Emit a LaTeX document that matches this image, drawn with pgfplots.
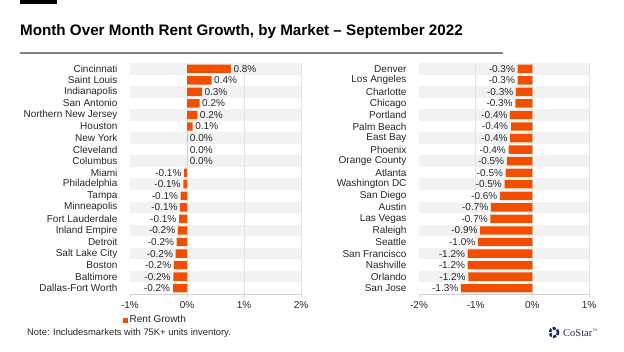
\documentclass[border=0pt]{standalone}
\usepackage{pgfplots}
\pgfplotsset{compat=1.18}
\usepackage{fontspec}
\setmainfont{Liberation Sans}
\newfontfamily\serif{Liberation Serif}
\definecolor{bar}{HTML}{F24E00}
\definecolor{band}{HTML}{F2F2F2}
\definecolor{gridc}{HTML}{E4E4E4}
\definecolor{txt}{HTML}{262626}
\definecolor{navy}{HTML}{1F2A5C}
\pgfplotsset{
  panel/.style={
    scale only axis, width=171pt, height=231pt,
    xbar, bar width=8.4pt, bar shift=0pt,
    ymin=0.5, ymax=20.5, ytick={1,...,20},
    axis x line*=bottom, axis y line*=left,
    y axis line style={draw=none}, ytick style={draw=none},
    x axis line style={gray!35}, xtick style={gray!35},
    tick align=outside, major tick length=3pt,
    tick label style={font=\fontsize{10}{12}\selectfont, text=txt},
    yticklabel style={xshift=-6pt},
    xticklabel style={yshift=-1pt},
    nodes near coords={\pgfplotspointmeta\%},
    point meta=explicit symbolic,
    clip=false,
  },
  pos/.style={fill=bar, draw=none, every node near coord/.style={anchor=west, font=\fontsize{10}{12}\selectfont, text=txt, inner sep=2.5pt}},
  neg/.style={fill=bar, draw=none, every node near coord/.style={anchor=east, font=\fontsize{10}{12}\selectfont, text=txt, inner sep=2.5pt}},
}
\begin{document}
\begin{tikzpicture}[x=1pt,y=1pt]
\useasboundingbox (0,0) rectangle (624,351);
% header
\fill[black] (20,347) rectangle (57,351);
\node[anchor=base west, inner sep=0, font=\bfseries\fontsize{15.2}{18}\selectfont] at (20,315) {Month Over Month Rent Growth, by Market \textendash\ September 2022};
\draw[gray!60!black!70, line width=1.5pt] (20,298) -- (503,298);
% left panel
\begin{axis}[panel, at={(130pt,57pt)}, anchor=south west,
  xmin=-1, xmax=2, xtick={-1,0,1,2}, xticklabels={-1\%,0\%,1\%,2\%},
  yticklabels={Dallas-Fort Worth,Baltimore,Boston,Salt Lake City,Detroit,Inland Empire,Fort Lauderdale,Minneapolis,Tampa,Philadelphia,Miami,Columbus,Cleveland,New York,Houston,Northern New Jersey,San Antonio,Indianapolis,Saint Louis,Cincinnati},
  legend style={at={(-0.045,-0.113)}, anchor=west, draw=none, fill=none, inner sep=0pt, font=\fontsize{10}{12}\selectfont, text=txt},
  legend image code/.code={\fill[bar] (0pt,-2.6pt) rectangle (5.2pt,2.6pt);},
  ]
\pgfplotsinvokeforeach{2,4,6,8,10,12,14,16,18,20}{
  \fill[band] (axis cs:-1,#1-0.5) rectangle (axis cs:2,#1+0.5);
}
\pgfplotsinvokeforeach{1,2}{
  \draw[gridc, line width=0.6pt] (axis cs:#1,0.5) -- (axis cs:#1,20.5);
}
\draw[gray!30, line width=0.6pt] (axis cs:0,0.5) -- (axis cs:0,20.5);
\addplot[pos] table[x=v, y=i, meta=l] {
i v l
20 0.77 0.8
19 0.43 0.4
18 0.26 0.3
17 0.22 0.2
16 0.18 0.2
15 0.10 0.1
14 0.005 0.0
13 0.004 0.0
12 0.003 0.0
};
\addlegendentry{Rent Growth}
\addplot[neg, forget plot] table[x=v, y=i, meta=l] {
i v l
11 -0.05 -0.1
10 -0.065 -0.1
9 -0.11 -0.1
8 -0.12 -0.1
7 -0.14 -0.1
6 -0.16 -0.2
5 -0.18 -0.2
4 -0.20 -0.2
3 -0.23 -0.2
2 -0.24 -0.2
1 -0.25 -0.2
};
\end{axis}
% right panel
\begin{axis}[panel, at={(419pt,57pt)}, anchor=south west, width=170pt,
  xmin=-2, xmax=1, xtick={-2,-1,0,1}, xticklabels={-2\%,-1\%,0\%,1\%},
  yticklabels={San Jose,Orlando,Nashville,San Francisco,Seattle,Raleigh,Las Vegas,Austin,San Diego,Washington DC,Atlanta,Orange County,Phoenix,East Bay,Palm Beach,Portland,Chicago,Charlotte,Los Angeles,Denver},
  ]
\pgfplotsinvokeforeach{2,4,6,8,10,12,14,16,18,20}{
  \fill[band] (axis cs:-2,#1-0.5) rectangle (axis cs:1,#1+0.5);
}
\pgfplotsinvokeforeach{-1,1}{
  \draw[gridc, line width=0.6pt] (axis cs:#1,0.5) -- (axis cs:#1,20.5);
}
\draw[gray!30, line width=0.6pt] (axis cs:0,0.5) -- (axis cs:0,20.5);
\addplot[neg] table[x=v, y=i, meta=l] {
i v l
20 -0.26 -0.3
19 -0.26 -0.3
18 -0.29 -0.3
17 -0.30 -0.3
16 -0.39 -0.4
15 -0.38 -0.4
14 -0.39 -0.4
13 -0.42 -0.4
12 -0.45 -0.5
11 -0.47 -0.5
10 -0.49 -0.5
9 -0.57 -0.6
8 -0.73 -0.7
7 -0.74 -0.7
6 -0.92 -0.9
5 -0.96 -1.0
4 -1.14 -1.2
3 -1.14 -1.2
2 -1.13 -1.2
1 -1.26 -1.3
};
\end{axis}
% note
\node[anchor=base west, inner sep=0, font=\fontsize{9.4}{11}\selectfont, text=txt] at (27,15.5) {Note: Includesmarkets with 75K+ units inventory.};
% logo
\draw[navy, line width=2.6pt, dash pattern=on 3.2pt off 1.4pt] (554,18.5) circle (4.2pt);
\node[anchor=base west, inner sep=0, font=\serif\fontsize{10.5}{12}\selectfont, text=navy] at (563,14.5) {CoStar\textsuperscript{\tiny{}™}};
\end{tikzpicture}
\end{document}
